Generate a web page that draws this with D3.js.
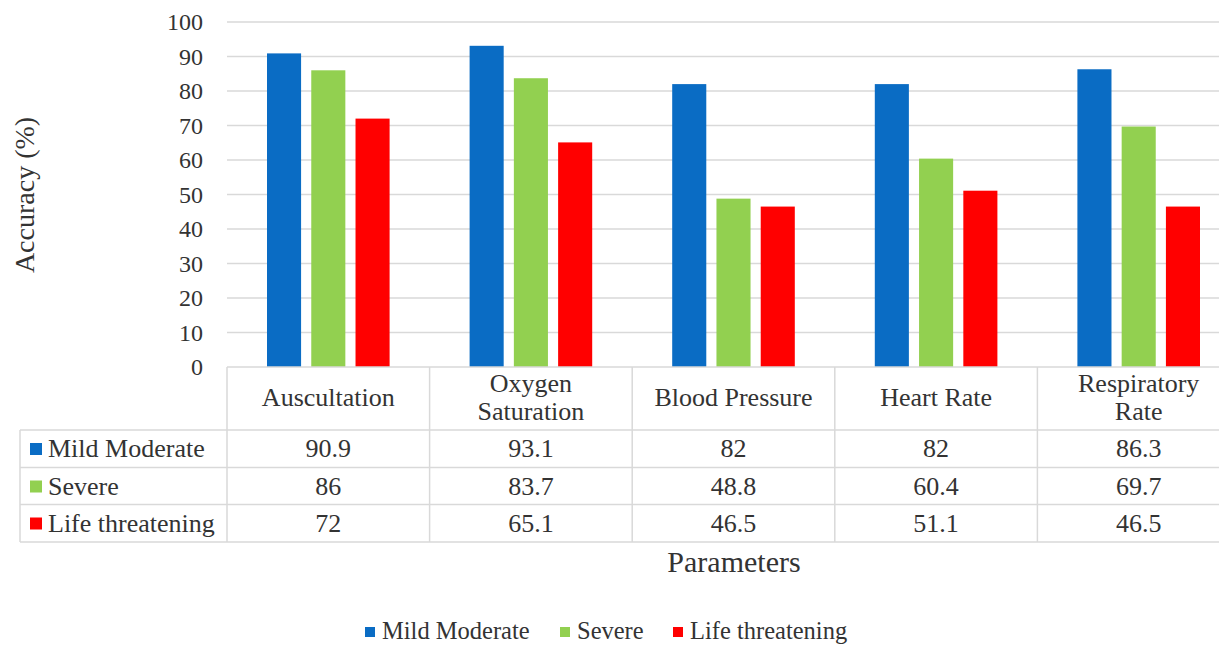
<!DOCTYPE html>
<html>
<head>
<meta charset="utf-8">
<script src="https://cdn.jsdelivr.net/npm/d3@7"></script>
<style>
  body { margin: 0; background: #fff; }
  svg text { fill: #333; }
</style>
</head>
<body>
<div id="chart"></div>
<script>
const categories = ["Auscultation", "Oxygen Saturation", "Blood Pressure", "Heart Rate", "Respiratory Rate"];
const headerLines = [["Auscultation"], ["Oxygen", "Saturation"], ["Blood Pressure"], ["Heart Rate"], ["Respiratory", "Rate"]];
const seriesNames = ["Mild Moderate", "Severe", "Life threatening"];
const mildModerate = [90.9, 93.1, 82, 82, 86.3];
const severe = [86, 83.7, 48.8, 60.4, 69.7];
const lifeThreatening = [72, 65.1, 46.5, 51.1, 46.5];
const yTicks = [0, 10, 20, 30, 40, 50, 60, 70, 80, 90, 100];

const colors = ["#0A6CC4", "#92D050", "#FF0000"];
const seriesValues = [mildModerate, severe, lifeThreatening];

const width = 1219, height = 647;
const plotLeft = 227, plotRight = 1240, plotTop = 22, plotBase = 367;
const tableLeft = 20;
const rowTops = [430, 467.5, 504.5, 542];
const gridColor = "#d9d9d9";
const serif = "'Liberation Serif', 'Times New Roman', Times, 'DejaVu Serif', serif";

const svg = d3.select("#chart").append("svg")
    .attr("width", width)
    .attr("height", height)
    .attr("font-family", serif);

const x = d3.scaleBand()
    .domain(categories)
    .range([plotLeft, plotRight]);

const xInner = d3.scaleBand()
    .domain(seriesNames)
    .range([40, x.bandwidth() - 40])
    .paddingInner(0.23);

const y = d3.scaleLinear()
    .domain([0, 100])
    .range([plotBase, plotTop]);

// gridlines
svg.append("g")
    .selectAll("line")
    .data(yTicks.filter(d => d > 0))
    .enter().append("line")
    .attr("x1", plotLeft)
    .attr("x2", plotRight)
    .attr("y1", d => y(d))
    .attr("y2", d => y(d))
    .style("stroke", gridColor)
    .style("stroke-width", 1.5);

// y axis labels
svg.append("g")
    .selectAll("text")
    .data(yTicks)
    .enter().append("text")
    .attr("x", 203)
    .attr("y", d => y(d) + 8)
    .attr("text-anchor", "end")
    .style("font-size", "24px")
    .text(d => d);

// bars
const groups = svg.append("g")
    .selectAll("g")
    .data(categories)
    .enter().append("g")
    .attr("transform", d => "translate(" + x(d) + ",0)");

groups.selectAll("rect")
    .data((d, i) => seriesNames.map((s, j) => ({s: s, v: seriesValues[j][i], c: colors[j]})))
    .enter().append("rect")
    .attr("x", d => xInner(d.s))
    .attr("width", xInner.bandwidth())
    .attr("y", d => y(d.v))
    .attr("height", d => y(0) - y(d.v))
    .style("fill", d => d.c);

// data table
const table = svg.append("g")
    .style("stroke", gridColor)
    .style("stroke-width", 1.5);

table.append("line")
    .attr("x1", plotLeft).attr("x2", plotRight)
    .attr("y1", plotBase).attr("y2", plotBase);

table.selectAll(".hline")
    .data(rowTops)
    .enter().append("line")
    .attr("x1", tableLeft).attr("x2", plotRight)
    .attr("y1", d => d).attr("y2", d => d);

table.append("line")
    .attr("x1", tableLeft).attr("x2", tableLeft)
    .attr("y1", rowTops[0]).attr("y2", rowTops[3]);

table.selectAll(".vline")
    .data(categories)
    .enter().append("line")
    .attr("x1", d => x(d)).attr("x2", d => x(d))
    .attr("y1", plotBase).attr("y2", rowTops[3]);

// column headers
svg.append("g")
    .selectAll("text")
    .data(headerLines)
    .enter().append("text")
    .attr("x", (d, i) => x(categories[i]) + x.bandwidth() / 2)
    .attr("y", d => d.length > 1 ? 392 : 406)
    .attr("text-anchor", "middle")
    .style("font-size", "26px")
    .each(function (d) {
        d.forEach((line, k) => {
            d3.select(this).append("tspan")
                .attr("x", d3.select(this).attr("x"))
                .attr("dy", k === 0 ? 0 : 28)
                .text(line);
        });
    });

// row labels
const rows = svg.append("g")
    .selectAll("g")
    .data(seriesNames)
    .enter().append("g")
    .attr("transform", (d, i) => "translate(0," + rowTops[i] + ")");

rows.append("rect")
    .attr("x", 30)
    .attr("y", 13)
    .attr("width", 12)
    .attr("height", 12)
    .style("fill", (d, i) => colors[i]);

rows.append("text")
    .attr("x", 48)
    .attr("y", 27)
    .style("font-size", "26px")
    .text(d => d);

rows.selectAll(".val")
    .data((d, i) => seriesValues[i])
    .enter().append("text")
    .attr("x", (d, i) => x(categories[i]) + x.bandwidth() / 2)
    .attr("y", 27)
    .attr("text-anchor", "middle")
    .style("font-size", "26px")
    .text(d => d);

// axis titles
svg.append("text")
    .attr("transform", "translate(34,195) rotate(-90)")
    .attr("text-anchor", "middle")
    .style("font-size", "28px")
    .text("Accuracy (%)");

svg.append("text")
    .attr("x", 734)
    .attr("y", 572)
    .attr("text-anchor", "middle")
    .style("font-size", "30px")
    .text("Parameters");

// legend
const legendX = [365, 560, 673];
const legend = svg.append("g")
    .selectAll("g")
    .data(seriesNames)
    .enter().append("g")
    .attr("transform", (d, i) => "translate(" + legendX[i] + ",627)");

legend.append("rect")
    .attr("width", 10)
    .attr("height", 10)
    .style("fill", (d, i) => colors[i]);

legend.append("text")
    .attr("x", 17)
    .attr("y", 12)
    .style("font-size", "24.5px")
    .text(d => d);
</script>
</body>
</html>
